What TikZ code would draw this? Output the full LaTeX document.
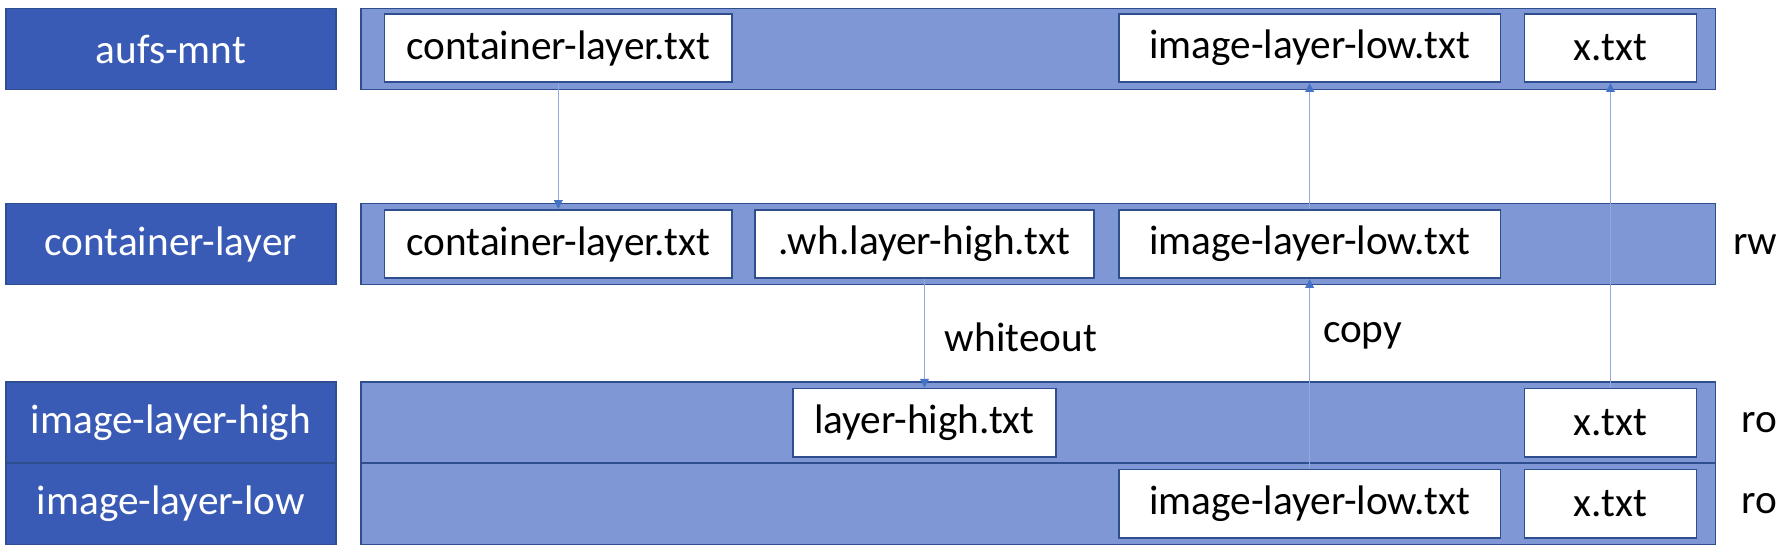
\documentclass[tikz,border=0pt]{standalone}
\usepackage{fontspec}
\setmainfont{Carlito}
\usetikzlibrary{arrows.meta}

\definecolor{labelblue}{HTML}{3A5BB5}
\definecolor{barblue}{HTML}{7F97D4}
\definecolor{edgeblue}{HTML}{2F4E8F}
\definecolor{linkblue}{HTML}{4472C4}

\begin{document}
\begin{tikzpicture}[
    x=0.02cm, y=-0.02cm,
    every node/.style={font=\fontsize{23.5}{28}\selectfont},
    rowlabel/.style={draw=edgeblue, line width=1pt, fill=labelblue, text=white,
        minimum width=6.6cm, minimum height=1.62cm, inner sep=0pt},
    layerbar/.style={draw=edgeblue, line width=1pt, fill=barblue,
        minimum width=27.1cm, minimum height=1.62cm, inner sep=0pt},
    filebox/.style={draw=edgeblue, line width=1pt, fill=white, text=black,
        minimum height=1.37cm, inner sep=0pt},
    link/.style={draw=linkblue!60, line width=0.6pt,
        -{Triangle[length=5pt,width=5pt,color=linkblue]}}
]
    \useasboundingbox (0,0) rectangle (1788,558);

    % Define column centres of the files
    \def\colc{558.3}
    \def\colw{924.5}
    \def\coll{1309.6}
    \def\colx{1610.5}

    % Draw the layer names and their bars
    \foreach \id/\txt/\y in {mnt/aufs-mnt/49, ctr/container-layer/244,
                             high/image-layer-high/422.7, low/image-layer-low/504} {
        \node[rowlabel] (lab-\id) at (170.9,\y) {\txt};
        \node[layerbar] (bar-\id) at (1038,\y) {};
    }

    % Files seen in the mount
    \node[filebox, minimum width=6.95cm] (mnt-c) at (\colc,48) {container-layer.txt};
    \node[filebox, minimum width=7.64cm] (mnt-l) at (\coll,48) {image-layer-low.txt};
    \node[filebox, minimum width=3.44cm] (mnt-x) at (\colx,48) {x.txt};

    % Files of the container layer
    \node[filebox, minimum width=6.95cm] (ctr-c) at (\colc,244) {container-layer.txt};
    \node[filebox, minimum width=6.78cm] (ctr-w) at (\colw,244) {.wh.layer-high.txt};
    \node[filebox, minimum width=7.64cm] (ctr-l) at (\coll,244) {image-layer-low.txt};

    % Files of the image layers
    \node[filebox, minimum width=5.27cm] (high-h) at (\colw,422.7) {layer-high.txt};
    \node[filebox, minimum width=3.44cm] (high-x) at (\colx,422.7) {x.txt};
    \node[filebox, minimum width=7.64cm] (low-l) at (\coll,503.7) {image-layer-low.txt};
    \node[filebox, minimum width=3.44cm] (low-x) at (\colx,503.7) {x.txt};

    % Access modes
    \node[anchor=west, inner sep=0pt] (mode-ctr) at (1733,244) {rw};
    \node[anchor=west, inner sep=0pt] (mode-high) at (1741,422.7) {ro};
    \node[anchor=west, inner sep=0pt] (mode-low) at (1741,504) {ro};

    % Connectors
    \draw[link] (mnt-c.south) -- (ctr-c.north);
    \draw[link] (ctr-w.south) -- node[right, xshift=8pt, yshift=-2pt] {whiteout} (high-h.north);
    \draw[link] (low-l.north) -- node[right, pos=0.7, xshift=4pt] {copy} (ctr-l.south);
    \draw[link] (ctr-l.north) -- (mnt-l.south);
    \draw[link] (high-x.north) -- (mnt-x.south);
\end{tikzpicture}
\end{document}
